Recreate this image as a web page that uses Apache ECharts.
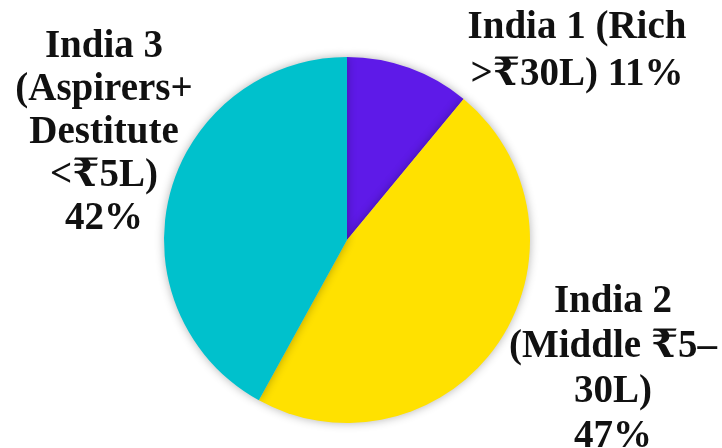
<!DOCTYPE html>
<html><head><meta charset="utf-8">
<script src="https://cdn.jsdelivr.net/npm/echarts@6/dist/echarts.min.js"></script>
<style>html,body{margin:0;padding:0;background:#fff}#c{width:722px;height:448px}</style>
</head><body><div id="c"></div>
<script>
const categories = ["India 1 (Rich\n>₹30L) 11%", "India 2\n(Middle ₹5–\n30L)\n47%", "India 3\n(Aspirers+\nDestitute\n<₹5L)\n42%"];
const values = [11, 47, 42];
const colors = ["#5E1AE8", "#FFE100", "#00C1CC"];
const labelPos = [[577, 51], [613, 369], [104, 133]];
const lineHeights = [47, 45, 43];

const chart = echarts.init(document.getElementById('c'), null, {renderer: 'canvas'});
chart.setOption({
  animation: false,
  series: [{
    type: 'pie',
    center: [347, 240],
    radius: [0, 183],
    startAngle: 90,
    clockwise: true,
    data: categories.map((n, i) => ({name: n, value: values[i], itemStyle: {color: colors[i]}, label: {lineHeight: lineHeights[i]}})),
    itemStyle: {shadowBlur: 10, shadowColor: 'rgba(0,0,0,0.3)', borderWidth: 0},
    label: {
      show: true, position: 'outside', formatter: '{b}', overflow: 'none', alignTo: 'none',
      fontFamily: '"Liberation Serif", "DejaVu Serif", serif', fontWeight: 'bold',
      fontSize: 39, color: '#111', align: 'center'
    },
    labelLine: {show: false},
    labelLayout: function (p) {
      const pos = labelPos[p.dataIndex];
      return {x: pos[0], y: pos[1], align: 'center', verticalAlign: 'middle', moveOverlap: null};
    },
    emphasis: {disabled: true}
  }]
});
</script></body></html>
